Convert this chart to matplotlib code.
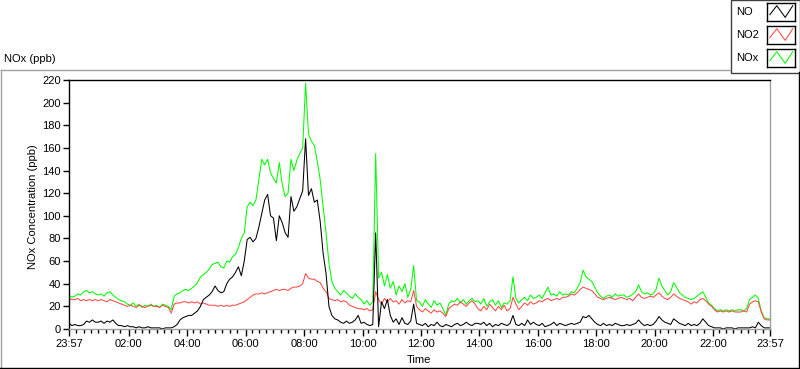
import numpy as np
import pandas as pd
import matplotlib
matplotlib.use('Agg')
import matplotlib.pyplot as plt
import matplotlib.dates as mdates
from matplotlib.patches import Rectangle
from matplotlib.lines import Line2D

plt.rcParams['font.family'] = ['Liberation Sans', 'DejaVu Sans']
plt.rcParams['font.size'] = 8

# concentrations in ppb, one reading every 6 min starting at 23:57 (10 per row = 1 hour)
no = [
    5, 3, 4, 3, 3, 4, 7, 6, 8, 6,
    6, 7, 5, 7, 6, 8, 5, 3, 3, 2,
    3, 2, 2, 1, 2, 1, 1, 2, 1, 1,
    1, 1, 0, 1, 1, 1, 2, 4, 8, 10,
    11, 12, 12, 14, 16, 20, 26, 28, 30, 33,
    38, 34, 32, 33, 40, 44, 46, 50, 55, 47,
    60, 79, 81, 77, 80, 90, 102, 114, 119, 100,
    98, 78, 100, 94, 85, 81, 117, 104, 108, 115,
    122, 168, 118, 124, 112, 114, 95, 67, 49, 20,
    12, 9, 8, 6, 5, 7, 5, 6, 8, 12,
    5, 6, 4, 3, 4, 85, 2, 24, 18, 26,
    12, 6, 9, 4, 10, 5, 4, 7, 22, 5,
    4, 3, 5, 2, 4, 3, 6, 3, 2, 4,
    3, 2, 4, 5, 3, 4, 6, 4, 3, 5,
    5, 4, 6, 3, 5, 2, 4, 3, 5, 4,
    3, 5, 12, 4, 3, 5, 3, 8, 4, 6,
    4, 3, 5, 2, 3, 4, 6, 3, 5, 4,
    3, 4, 5, 4, 5, 6, 11, 10, 12, 9,
    6, 4, 3, 5, 3, 4, 3, 5, 4, 3,
    3, 4, 3, 4, 5, 8, 5, 3, 4, 3,
    4, 7, 11, 8, 6, 5, 4, 9, 7, 5,
    4, 3, 5, 3, 4, 3, 5, 9, 6, 3,
    2, 1, 1, 1, 0, 1, 1, 1, 0, 1,
    1, 1, 1, 1, 2, 1, 6, 3, 1, 1,
    1,
]
no2 = [
    27, 26, 26, 27, 25, 26, 25, 26, 25, 26,
    25, 26, 25, 24, 26, 25, 24, 23, 22, 21,
    20, 21, 20, 19, 21, 20, 19, 20, 21, 20,
    20, 19, 21, 20, 19, 14, 22, 23, 23, 24,
    24, 23, 24, 23, 24, 22, 23, 22, 21, 21,
    21, 20, 21, 20, 21, 20, 21, 21, 22, 23,
    24, 26, 28, 30, 31, 31, 32, 31, 32, 33,
    34, 35, 34, 35, 35, 34, 36, 37, 37, 38,
    40, 49, 45, 44, 44, 42, 41, 36, 33, 27,
    26, 25, 26, 24, 25, 24, 21, 20, 19, 18,
    18, 17, 18, 16, 17, 33, 26, 22, 27, 24,
    27, 24, 25, 22, 26, 23, 25, 24, 34, 20,
    17, 15, 18, 16, 14, 17, 15, 16, 14, 11,
    18, 20, 22, 21, 24, 22, 20, 23, 25, 22,
    18, 16, 20, 17, 22, 19, 16, 20, 17, 21,
    16, 18, 28, 22, 17, 20, 23, 21, 24, 22,
    23, 25, 24, 26, 27, 25, 26, 27, 26, 28,
    28, 29, 31, 30, 32, 35, 37, 36, 35, 34,
    31, 28, 27, 26, 27, 28, 27, 26, 27, 28,
    27, 26, 27, 25, 28, 31, 28, 27, 28, 29,
    28, 30, 32, 29, 27, 26, 28, 31, 29, 27,
    26, 25, 24, 22, 24, 23, 26, 27, 25, 22,
    20, 17, 15, 16, 15, 16, 15, 16, 15, 15,
    15, 16, 15, 22, 24, 25, 24, 15, 9, 8,
    8,
]
nox = [
    30, 28, 29, 31, 30, 33, 34, 32, 33, 31,
    30, 31, 29, 32, 33, 30, 28, 26, 25, 24,
    22, 21, 23, 20, 22, 19, 21, 20, 22, 20,
    21, 19, 22, 21, 20, 17, 29, 31, 32, 34,
    35, 34, 36, 38, 41, 46, 48, 50, 53, 57,
    58, 59, 55, 54, 60, 59, 64, 66, 72, 80,
    85, 108, 112, 109, 114, 132, 150, 145, 150, 138,
    133, 129, 147, 128, 117, 120, 150, 140, 149, 155,
    160, 217, 172, 166, 162, 148, 132, 108, 85, 58,
    42, 36, 33, 30, 34, 32, 29, 27, 31, 28,
    26, 22, 25, 21, 24, 155, 45, 50, 38, 48,
    36, 42, 30, 38, 33, 40, 28, 35, 56, 25,
    24, 20, 26, 22, 19, 25, 21, 23, 18, 12,
    22, 25, 24, 27, 23, 26, 22, 25, 27, 24,
    25, 22, 27, 20, 24, 26, 21, 25, 19, 23,
    22, 25, 46, 27, 23, 26, 28, 25, 30, 27,
    28, 30, 27, 32, 37, 30, 31, 29, 33, 30,
    31, 30, 33, 32, 36, 41, 52, 46, 44, 42,
    37, 32, 29, 27, 29, 30, 28, 31, 29, 30,
    30, 28, 29, 31, 33, 39, 33, 31, 32, 30,
    31, 35, 45, 38, 34, 30, 33, 41, 37, 32,
    30, 28, 27, 26, 27, 29, 31, 33, 28, 23,
    21, 18, 16, 17, 16, 17, 16, 17, 16, 17,
    17, 16, 18, 26, 28, 30, 27, 16, 10, 9,
    9,
]

series_names = ['NO', 'NO2', 'NOx']
series_colors = ['#000000', '#ff4848', '#00ff00']
tick_labels = ['23:57', '02:00', '04:00', '06:00', '08:00', '10:00', '12:00',
               '14:00', '16:00', '18:00', '20:00', '22:00', '23:57']

start = pd.Timestamp('2015-03-02 23:57')
end = start + pd.Timedelta(hours=24)
times = pd.date_range(start, periods=len(no), freq='6min')

W, H = 800, 369
fig = plt.figure(figsize=(W / 100, H / 100), dpi=100)
fig.patch.set_facecolor('white')

# plot area: x 69..770, y 80..329 (pixels)
ax = fig.add_axes([69 / W, (H - 329) / H, 701 / W, 249 / H])
xnum = mdates.date2num(times.to_pydatetime())
for vals, col in [(nox, series_colors[2]), (no2, series_colors[1]), (no, series_colors[0])]:
    ax.plot(xnum, vals, color=col, lw=0.75)

ax.set_xlim(mdates.date2num(start), mdates.date2num(end))
ax.set_ylim(0, 220)
ax.set_yticks(range(0, 221, 20))

major = [start] + [pd.Timestamp('2015-03-03 %02d:00' % h) for h in range(2, 24, 2)] + [end]
major_num = mdates.date2num([t.to_pydatetime() for t in major])
ax.set_xticks(major_num)
ax.set_xticklabels(tick_labels)
minor = pd.date_range(start, end, freq='15min')
minor_num = [m for m in mdates.date2num(minor.to_pydatetime())
             if min(abs(m - major_num)) > 4 / 1440]
ax.set_xticks(minor_num, minor=True)

ax.tick_params(axis='x', which='major', length=5, width=1, pad=2, colors='black')
ax.tick_params(axis='x', which='minor', length=3, width=1)
ax.tick_params(axis='y', which='major', length=4, width=1, pad=2)

for side, col in [('left', 'black'), ('top', 'black'), ('right', '#a0a0a0'), ('bottom', '#a0a0a0')]:
    ax.spines[side].set_color(col)
    ax.spines[side].set_linewidth(1)

fig.text(33 / W, 1 - 207 / H, 'NOx Concentration (ppb)', rotation=90, ha='center', va='center')
fig.text(419 / W, 1 - 360 / H, 'Time', ha='center', va='center')
fig.text(4 / W, 1 - 59 / H, 'NOx (ppb)', ha='left', va='center')

# panel border
def px_line(x0, y0, x1, y1, color):
    fig.add_artist(Line2D([x0 / W, x1 / W], [1 - y0 / H, 1 - y1 / H], color=color, lw=1,
                          transform=fig.transFigure))

px_line(0.5, 69.5, 730, 69.5, '#a0a0a0')
px_line(0.5, 69.5, 0.5, 368, '#a0a0a0')
px_line(0, 367.5, 800, 367.5, 'black')
px_line(798.5, 72, 798.5, 368, 'black')

# legend
fig.add_artist(Rectangle((730.5 / W, 1 - 72.5 / H), 69 / W, 72 / H, transform=fig.transFigure,
                         facecolor='white', edgecolor='#404040', lw=1, zorder=-1))
for i, (name, col) in enumerate(zip(series_names, series_colors)):
    yc = 12 + i * 23
    fig.text(736 / W, 1 - yc / H, name, ha='left', va='center')
    sw = fig.add_axes([767 / W, 1 - (yc + 9) / H, 28 / W, 18 / H])
    sw.plot([0.1, 0.35, 0.65, 0.92], [0.35, 0.85, 0.2, 0.85], color=col, lw=0.75)
    sw.set_xlim(0, 1)
    sw.set_ylim(0, 1)
    sw.set_xticks([])
    sw.set_yticks([])
    for s in sw.spines.values():
        s.set_linewidth(1)
        s.set_color('black')

fig.savefig('out.png', dpi=100)
